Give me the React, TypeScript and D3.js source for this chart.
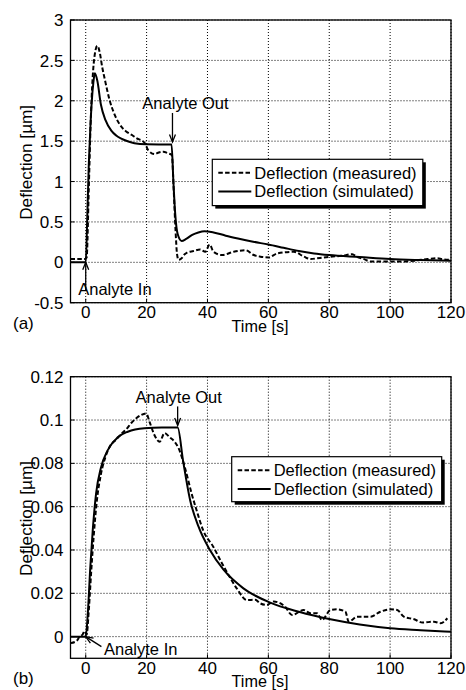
import React from "react";
import * as d3 from "d3";

// panel (a): time [s], deflection [um]
const simA: [number, number][] = [
  [-5, 0], [0, 0], [0.5, 0.55], [1, 1.2], [1.5, 1.65], [2, 2.0], [2.5, 2.22], [3, 2.34],
  [3.8, 2.25], [5, 1.95], [6.5, 1.76], [8.4, 1.63], [10, 1.57], [11.7, 1.53], [14, 1.495],
  [16, 1.475], [20, 1.462], [24, 1.46], [28.2, 1.46], [28.8, 1.0], [29.4, 0.6], [30.2, 0.35],
  [31.5, 0.265], [33, 0.29], [35, 0.34], [37, 0.37], [39, 0.385], [42, 0.37], [46, 0.33],
  [50, 0.295], [55, 0.255], [60, 0.22], [65, 0.18], [70, 0.14], [75, 0.11], [80, 0.09],
  [90, 0.065], [100, 0.04], [110, 0.028], [120, 0.02],
];
const measA: [number, number][] = [
  [-5, 0.04], [-0.3, 0.04], [0.3, 0.06], [1, 0.9], [1.6, 1.7], [2.3, 2.3], [3, 2.58], [3.8, 2.68],
  [4.6, 2.6], [5.4, 2.42], [6.3, 2.26], [7.9, 2.0], [9.6, 1.82], [11.7, 1.68], [13.3, 1.62],
  [15, 1.58], [17, 1.53], [18.3, 1.51], [19.5, 1.47], [20.5, 1.39], [22.7, 1.34], [24, 1.36],
  [25.5, 1.37], [27, 1.35], [28.3, 1.33], [28.9, 0.9], [29.5, 0.4], [30, 0.1], [30.5, 0.03],
  [31.5, 0.05], [32.5, 0.1], [33.3, 0.12], [35.4, 0.14], [37.6, 0.16], [39.3, 0.13], [40.7, 0.22],
  [42, 0.13], [44.8, 0.09], [48.6, 0.13], [52.5, 0.15], [55.2, 0.09], [57.4, 0.07], [60.1, 0.06],
  [62.9, 0.11], [68.4, 0.13], [71.7, 0.07], [73.9, 0.04], [76, 0.05], [80.5, 0.07], [84, 0.08],
  [87.6, 0.1], [89, 0.07], [91.4, 0.04], [93.6, 0.01], [98, 0.01], [103.5, 0.01], [108, 0.02],
  [112.3, 0.04], [115.6, 0.05], [117, 0.04], [120, 0.03],
];

// panel (b)
const simB: [number, number][] = [
  [-5, 0], [0, 0], [0.7, 0.011], [1.5, 0.032], [2.3, 0.049], [3.4, 0.066], [5, 0.078],
  [7.2, 0.086], [10.5, 0.092], [13.8, 0.0946], [19.3, 0.0962], [25, 0.0965], [30.2, 0.0965],
  [32, 0.081], [34.3, 0.063], [37, 0.051], [40.8, 0.04], [45.2, 0.031], [51.8, 0.0223],
  [60.6, 0.0157], [70, 0.0115], [80.4, 0.008], [90, 0.0056], [100, 0.0039], [110, 0.003],
  [120, 0.0022],
];
const measB: [number, number][] = [
  [-5, -0.003], [-3, -0.002], [-2, 0], [-1, 0.001], [-0.4, 0.0025], [0.3, 0.001], [1, 0.012],
  [1.8, 0.03], [2.6, 0.046], [3.6, 0.062], [5, 0.075], [6.5, 0.083], [8, 0.088], [10, 0.091],
  [12, 0.094], [13.5, 0.096], [14.9, 0.0985], [16.6, 0.1008], [18.2, 0.1023], [19.9, 0.103],
  [21, 0.099], [22.6, 0.093], [24.3, 0.09], [25.9, 0.094], [27.6, 0.092], [29.2, 0.09],
  [30.5, 0.087], [32.6, 0.078], [34.8, 0.066], [36.5, 0.058], [38.6, 0.049], [41.9, 0.0415],
  [44.7, 0.034], [46.9, 0.0285], [49.6, 0.0223], [52.9, 0.0169], [55.7, 0.017], [57.3, 0.0154],
  [59.5, 0.0146], [61.7, 0.0162], [65.5, 0.0138], [67.8, 0.01], [71.6, 0.0123], [73.8, 0.0108],
  [76, 0.0108], [77.6, 0.0077], [80.4, 0.0123], [82.6, 0.0126], [85.3, 0.0115], [86.4, 0.0069],
  [89.2, 0.0092], [93.5, 0.0092], [96.8, 0.0115], [100.1, 0.0126], [102.3, 0.0123],
  [104.5, 0.0092], [107.9, 0.008], [110.6, 0.0065], [114.4, 0.0069], [116.6, 0.0062],
  [118.8, 0.0085],
];

const xTicks = [0, 20, 40, 60, 80, 100, 120];
const yTicksA = [-0.5, 0, 0.5, 1, 1.5, 2, 2.5, 3];
const yLabelsA = ["-0.5", "0", "0.5", "1", "1.5", "2", "2.5", "3"];
const yTicksB = [0, 0.02, 0.04, 0.06, 0.08, 0.1, 0.12];
const yLabelsB = ["0", "0.02", "0.04", "0.06", "0.08", "0.1", "0.12"];
const legendNames = ["Deflection (measured)", "Deflection (simulated)"];

const FONT = "'Liberation Sans', Arial, sans-serif";
const DASH = "4.5,2.3";

const Arrow = ({ x1, y1, x2, y2 }: { x1: number; y1: number; x2: number; y2: number }) => {
  const a = Math.atan2(y2 - y1, x2 - x1);
  const L = 8, s = 0.38;
  const p1 = [x2 - L * Math.cos(a - s), y2 - L * Math.sin(a - s)];
  const p2 = [x2 - L * Math.cos(a + s), y2 - L * Math.sin(a + s)];
  return (
    <g stroke="#000" strokeWidth={1.3} fill="none">
      <line x1={x1} y1={y1} x2={x2} y2={y2} />
      <path d={`M${p1[0]},${p1[1]}L${x2},${y2}L${p2[0]},${p2[1]}`} />
    </g>
  );
};

type PanelProps = {
  id: string;
  top: number;
  bottom: number;
  yDomain: [number, number];
  yTicks: number[];
  yLabels: string[];
  sim: [number, number][];
  meas: [number, number][];
  legend: { x: number; y: number; w: number; h: number };
  tag: string;
  outTip: [number, number];
  outTail: [number, number];
  outText: [number, number];
  inTip: [number, number];
  inTail: [number, number];
  inText: [number, number];
};

const Panel = (p: PanelProps) => {
  const left = 70.5, right = 451;
  const x = d3.scaleLinear().domain([-5, 120]).range([left, right]);
  const y = d3.scaleLinear().domain(p.yDomain).range([p.bottom, p.top]);
  const line = d3.line<[number, number]>().x(d => x(d[0])).y(d => y(d[1])).curve(d3.curveMonotoneX);
  const ox = x(p.outTip[0]), oy = y(p.outTip[1]);
  const ix = x(p.inTip[0]), iy = y(p.inTip[1]);
  const lg = p.legend;
  return (
    <g fontFamily={FONT} fontSize={16.5}>
      <defs>
        <clipPath id={p.id}>
          <rect x={left} y={p.top} width={right - left} height={p.bottom - p.top} />
        </clipPath>
      </defs>
      <g stroke="#000" strokeWidth={1} strokeDasharray="1,2">
        {xTicks.map(t => <line key={t} x1={x(t)} x2={x(t)} y1={p.top} y2={p.bottom} />)}
        {p.yTicks.map(t => <line key={t} x1={left} x2={right} y1={y(t)} y2={y(t)} />)}
      </g>
      <g stroke="#000" strokeWidth={1}>
        {xTicks.map(t => <line key={t} x1={x(t)} x2={x(t)} y1={p.bottom} y2={p.bottom - 4} />)}
        {p.yTicks.map(t => <line key={t} x1={left} x2={left + 4} y1={y(t)} y2={y(t)} />)}
      </g>
      <g clipPath={`url(#${p.id})`} fill="none" stroke="#000" strokeWidth={2}>
        <path d={line(p.meas) || ""} strokeDasharray={DASH} />
        <path d={line(p.sim) || ""} />
      </g>
      <rect x={left} y={p.top} width={right - left} height={p.bottom - p.top} fill="none" stroke="#000" strokeWidth={1.3} />
      {xTicks.map(t => (
        <text key={t} x={x(t)} y={p.bottom + 15.5} textAnchor="middle" fontSize={17}>{t}</text>
      ))}
      {p.yTicks.map((t, i) => (
        <text key={t} x={63.5} y={y(t)} dy="0.36em" textAnchor="end" fontSize={17}>{p.yLabels[i]}</text>
      ))}
      <text x={260} y={p.bottom + 29} textAnchor="middle" fontSize={16.2}>Time [s]</text>
      <text transform={`translate(32,${(p.top + p.bottom) / 2 + 1}) rotate(-90)`} textAnchor="middle" fontSize={17.2}>Deflection [µm]</text>
      <text x={13} y={p.bottom + 26} fontSize={17}>{p.tag}</text>
      {/* legend */}
      <rect x={lg.x + 3} y={lg.y + 3} width={lg.w} height={lg.h} fill="#000" />
      <rect x={lg.x} y={lg.y} width={lg.w} height={lg.h} fill="#fff" stroke="#000" strokeWidth={1.2} />
      {legendNames.map((n, i) => {
        const ly = lg.y + 13.5 + i * 18.7;
        return (
          <g key={n}>
            <line x1={lg.x + 6} x2={lg.x + 39} y1={ly} y2={ly} stroke="#000" strokeWidth={2}
              strokeDasharray={i === 0 ? DASH : undefined} />
            <text x={lg.x + 42} y={ly} dy="0.36em">{n}</text>
          </g>
        );
      })}
      {/* annotations */}
      <Arrow x1={ox + p.outTail[0]} y1={oy + p.outTail[1]} x2={ox} y2={oy} />
      <text x={ox + p.outText[0]} y={oy + p.outText[1]} textAnchor="middle">Analyte Out</text>
      <Arrow x1={ix + p.inTail[0]} y1={iy + p.inTail[1]} x2={ix} y2={iy} />
      <text x={ix + p.inText[0]} y={iy + p.inText[1]}>Analyte In</text>
    </g>
  );
};

export default function App() {
  return (
    <svg width={466} height={690} style={{ position: "absolute", left: 0, top: 0, background: "#fff" }}>
      <Panel id="clipA" top={20} bottom={302.7} yDomain={[-0.5, 3]} yTicks={yTicksA} yLabels={yLabelsA}
        sim={simA} meas={measA} legend={{ x: 212.3, y: 159.3, w: 210.5, h: 46.3 }} tag="(a)"
        outTip={[28.5, 1.49]} outTail={[0, -29]} outText={[13, -32.5]}
        inTip={[0, 0]} inTail={[0, 28]} inText={[-7.5, 33]} />
      <Panel id="clipB" top={376.7} bottom={658.3} yDomain={[-0.01, 0.12]} yTicks={yTicksB} yLabels={yLabelsB}
        sim={simB} meas={measB} legend={{ x: 231.7, y: 456.7, w: 210, h: 45 }} tag="(b)"
        outTip={[30.2, 0.0975]} outTail={[0, -19]} outText={[1, -22]}
        inTip={[0, 0]} inTail={[15.7, 10]} inText={[18.3, 18.3]} />
    </svg>
  );
}
